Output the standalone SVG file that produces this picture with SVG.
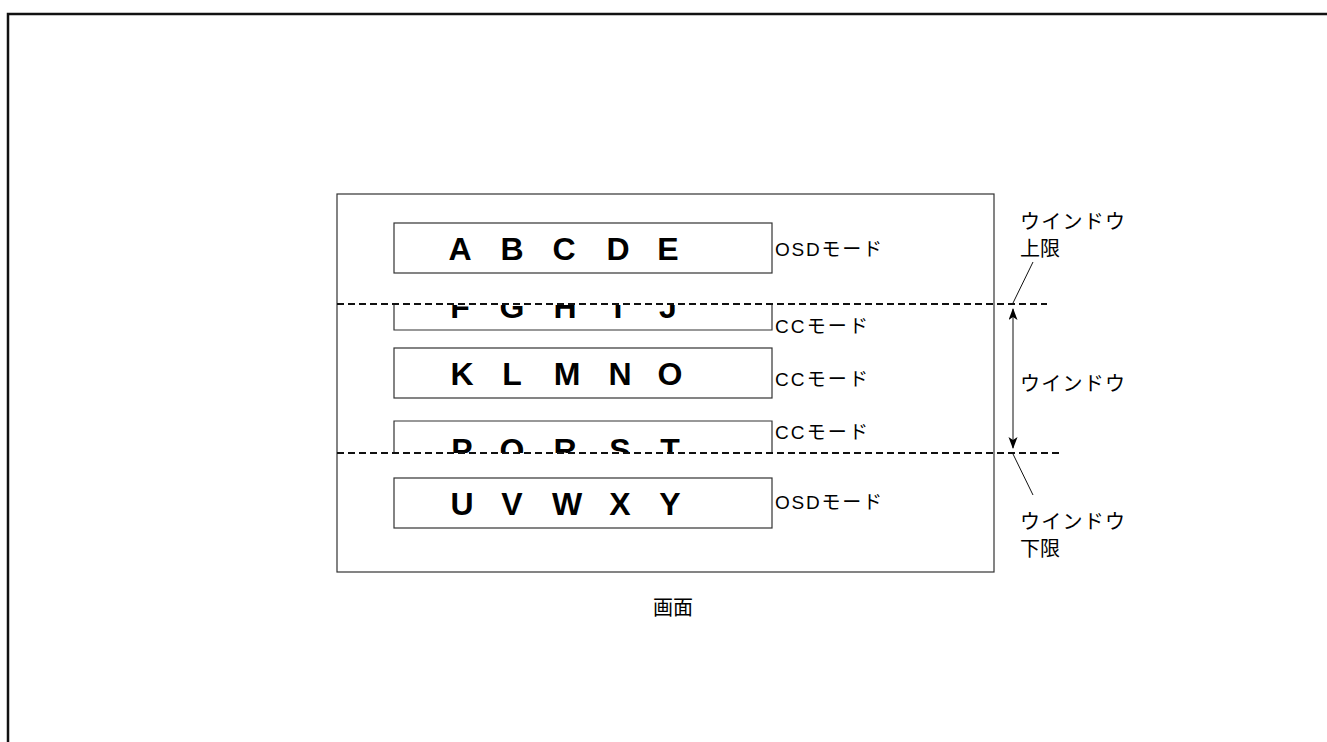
<svg xmlns="http://www.w3.org/2000/svg" width="1327" height="742" viewBox="0 0 1327 742">
<style>
.frame{fill:none;stroke:#111;stroke-width:2.5}
.box{fill:none;stroke:#333;stroke-width:1.2}
.dash{fill:none;stroke:#111;stroke-width:1.8;stroke-dasharray:7,4}
.line{fill:none;stroke:#111;stroke-width:1}
.big{font-family:"Liberation Sans",Arial,sans-serif;font-weight:bold;font-size:32px;fill:#000;text-anchor:middle}
.mode{font-family:"Liberation Sans","Noto Sans CJK JP",sans-serif;font-size:19px;fill:#000}
.jp{font-family:"Noto Sans CJK JP",sans-serif;font-size:20px;fill:#000}
</style>
<defs>
<marker id="ah" markerWidth="12" markerHeight="10" refX="11" refY="4.5" orient="auto" markerUnits="userSpaceOnUse">
<path d="M0,0 L12,4.5 L0,9 L3,4.5 Z" fill="#000"/>
</marker>
<clipPath id="c2"><rect x="380" y="305" width="400" height="30"/></clipPath>
<clipPath id="c4"><rect x="380" y="415" width="400" height="38"/></clipPath>
</defs>
<rect width="1327" height="742" fill="#fff"/>
<path class="frame" d="M8,742 V14 H1327"/>
<g id="screen">
<rect class="box" x="337" y="194" width="657" height="378"/>
<text class="jp" x="673" y="615" text-anchor="middle">画面</text>
</g>
<g id="row1">
<rect class="box" x="394" y="223" width="378" height="50"/>
<text class="big" x="460" y="260">A</text><text class="big" x="512" y="260">B</text><text class="big" x="564" y="260">C</text><text class="big" x="618" y="260">D</text><text class="big" x="668" y="260">E</text>
<text class="mode" x="775" y="256" textLength="107" lengthAdjust="spacing">OSDモード</text>
</g>
<g id="row2">
<path class="box" d="M394,304 V330 H772 V304"/>
<g clip-path="url(#c2)">
<text class="big" x="460" y="318">F</text><text class="big" x="512" y="318">G</text><text class="big" x="565" y="318">H</text><text class="big" x="618" y="318">I</text><text class="big" x="668" y="318">J</text>
</g>
<text class="mode" x="775" y="333" textLength="93" lengthAdjust="spacing">CCモード</text>
</g>
<g id="row3">
<rect class="box" x="394" y="348" width="378" height="50"/>
<text class="big" x="462" y="385">K</text><text class="big" x="512" y="385">L</text><text class="big" x="567" y="385">M</text><text class="big" x="620" y="385">N</text><text class="big" x="670" y="385">O</text>
<text class="mode" x="775" y="386" textLength="93" lengthAdjust="spacing">CCモード</text>
</g>
<g id="row4">
<path class="box" d="M394,453 V421 H772 V453"/>
<g clip-path="url(#c4)">
<text class="big" x="462" y="461">P</text><text class="big" x="512" y="461">Q</text><text class="big" x="565" y="461">R</text><text class="big" x="620" y="461">S</text><text class="big" x="670" y="461">T</text>
</g>
<text class="mode" x="775" y="439" textLength="93" lengthAdjust="spacing">CCモード</text>
</g>
<g id="row5">
<rect class="box" x="394" y="478" width="378" height="50"/>
<text class="big" x="462" y="515">U</text><text class="big" x="512" y="515">V</text><text class="big" x="567" y="515">W</text><text class="big" x="620" y="515">X</text><text class="big" x="670" y="515">Y</text>
<text class="mode" x="775" y="509" textLength="107" lengthAdjust="spacing">OSDモード</text>
</g>
<g id="labels">
<text class="jp" x="1020" y="229" textLength="105" lengthAdjust="spacing">ウインドウ</text>
<text class="jp" x="1020" y="256">上限</text>
<text class="jp" x="1020" y="391" textLength="105" lengthAdjust="spacing">ウインドウ</text>
<text class="jp" x="1020" y="529" textLength="105" lengthAdjust="spacing">ウインドウ</text>
<text class="jp" x="1020" y="556">下限</text>
</g>
<g id="connectors">
<line class="dash" x1="337" y1="304" x2="1047" y2="304"/>
<line class="dash" x1="337" y1="453" x2="1060" y2="453"/>
<line class="line" x1="1013" y1="380" x2="1013" y2="309" marker-end="url(#ah)"/>
<line class="line" x1="1013" y1="380" x2="1013" y2="448" marker-end="url(#ah)"/>
<line class="line" x1="1033" y1="262" x2="1013" y2="303"/>
<line class="line" x1="1013" y1="454" x2="1033" y2="495"/>
</g>
</svg>
